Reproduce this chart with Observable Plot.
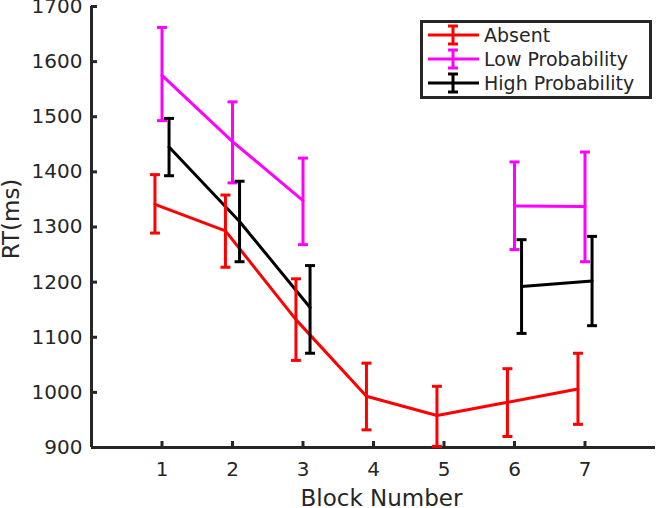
<!DOCTYPE html>
<html>
<head>
<meta charset="utf-8">
<script src="https://cdn.jsdelivr.net/npm/d3@7"></script>
<script src="https://cdn.jsdelivr.net/npm/@observablehq/plot@0.6"></script>
<style>
  html, body { margin: 0; padding: 0; background: #fff; }
  #wrap { position: relative; width: 657px; height: 508px; font-family: "DejaVu Sans", sans-serif; }
  #legend { position: absolute; left: 420px; top: 20px; width: 226px; height: 73px; border: 3px solid #262626; background: #fff; }
  #legend .row { position: absolute; left: 0; height: 24px; display: flex; align-items: center; font-size: 19px; color: #262626; white-space: nowrap; }
  #legend svg { margin-left: 3px; margin-right: 4px; }
</style>
</head>
<body>
<div id="wrap"></div>
<script>
const blocks = [1, 2, 3, 4, 5, 6, 7];
const yTicks = [900, 1000, 1100, 1200, 1300, 1400, 1500, 1600, 1700];
const seriesNames = ["Absent", "Low Probability", "High Probability"];
const seriesColors = ["#ff0000", "#ff00ff", "#000000"];
const seriesXOffset = [-0.1, 0, 0.1];

const absentMean = [1341, 1293, 1132, 993, 958, 982, 1006];
const absentLo   = [1289, 1227, 1058, 932, 902, 920, 942];
const absentHi   = [1395, 1358, 1206, 1053, 1011, 1043, 1071];

const lowMean = [1575, 1455, 1348, null, null, 1338, 1337];
const lowLo   = [1493, 1380, 1268, null, null, 1259, 1237];
const lowHi   = [1662, 1527, 1425, null, null, 1418, 1436];

const highMean = [1445, 1310, 1154, null, null, 1192, 1202];
const highLo   = [1393, 1237, 1071, null, null, 1107, 1121];
const highHi   = [1497, 1383, 1230, null, null, 1277, 1283];

const means = [absentMean, lowMean, highMean];
const los = [absentLo, lowLo, highLo];
const his = [absentHi, lowHi, highHi];

const data = [];
seriesNames.forEach((s, i) => {
  blocks.forEach((b, j) => {
    data.push({series: s, block: b + seriesXOffset[i], mean: means[i][j], lo: los[i][j], hi: his[i][j]});
  });
});
const defined = data.filter(d => d.mean != null);

const capSymbol = {
  draw(context, size) {
    const r = Math.sqrt(size / Math.PI);
    context.moveTo(-r, 0);
    context.lineTo(r, 0);
  }
};

const colorScale = {domain: seriesNames, range: seriesColors};

const chart = Plot.plot({
  width: 657,
  height: 508,
  marginLeft: 91,
  marginTop: 6,
  marginBottom: 61,
  marginRight: 2,
  style: {fontFamily: "DejaVu Sans, sans-serif", background: "#fff", overflow: "visible"},
  x: {domain: [0, 8]},
  y: {domain: [900, 1700]},
  color: colorScale,
  marks: [
    Plot.axisY({ticks: yTicks, tickSize: -6, tickPadding: 15, fontSize: 20, color: "#262626", stroke: "#262626", strokeWidth: 3, label: null, tickFormat: d => String(d)}),
    Plot.axisX({ticks: blocks, tickSize: -6, tickPadding: 20, fontSize: 20, color: "#262626", stroke: "#262626", strokeWidth: 3, label: null}),
    Plot.ruleX([0], {stroke: "#262626", strokeWidth: 3}),
    Plot.ruleY([900], {stroke: "#262626", strokeWidth: 3}),
    Plot.text(["Block Number"], {frameAnchor: "bottom", textAnchor: "middle", lineAnchor: "middle", dx: 8, dy: 51, fontSize: 23, fill: "#262626"}),
    Plot.text(["RT(ms)"], {frameAnchor: "left", textAnchor: "middle", lineAnchor: "middle", dx: -80, dy: -8, rotate: -90, fontSize: 23, fill: "#262626"}),
    Plot.line(data, {x: "block", y: "mean", z: "series", stroke: "series", strokeWidth: 3}),
    Plot.ruleX(defined, {x: "block", y1: "lo", y2: "hi", stroke: "series", strokeWidth: 3}),
    Plot.dot(defined, {x: "block", y: "lo", stroke: "series", strokeWidth: 3, symbol: capSymbol, r: 5}),
    Plot.dot(defined, {x: "block", y: "hi", stroke: "series", strokeWidth: 3, symbol: capSymbol, r: 5})
  ]
});

const wrap = document.getElementById("wrap");
wrap.appendChild(chart);

const legend = document.createElement("div");
legend.id = "legend";
seriesNames.forEach((s, i) => {
  const row = document.createElement("div");
  row.className = "row";
  row.style.top = (0 + i * 24) + "px";
  const c = seriesColors[i];
  row.innerHTML = `<svg width="54" height="24"><line x1="2" x2="53" y1="12" y2="12" stroke="${c}" stroke-width="3"/><line x1="27" x2="27" y1="3" y2="21" stroke="${c}" stroke-width="3"/><line x1="22" x2="32" y1="3" y2="3" stroke="${c}" stroke-width="3"/><line x1="22" x2="32" y1="21" y2="21" stroke="${c}" stroke-width="3"/></svg><span>${s}</span>`;
  legend.appendChild(row);
});
wrap.appendChild(legend);
</script>
</body>
</html>
